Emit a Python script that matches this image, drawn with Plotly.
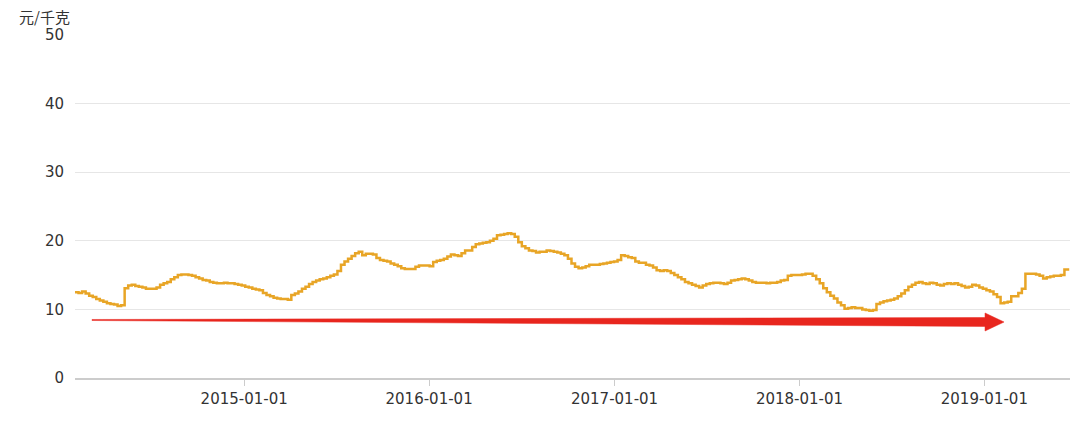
import pandas as pd
import plotly.graph_objects as go

# Weekly price (元/千克), starting 2014-02-01
start_date = "2014-02-01"
prices = [
    12.5, 12.4, 12.6, 12.3, 12.0, 11.8, 11.5, 11.3, 11.1, 10.9,
    10.8, 10.7, 10.5, 10.6, 13.1, 13.5, 13.6, 13.4, 13.3, 13.2,
    13.0, 13.0, 13.0, 13.2, 13.6, 13.8, 14.0, 14.4, 14.7, 15.0,
    15.1, 15.1, 15.0, 14.9, 14.7, 14.5, 14.3, 14.2, 14.0, 13.9,
    13.8, 13.8, 13.9, 13.8, 13.8, 13.7, 13.6, 13.5, 13.3, 13.2,
    13.0, 12.9, 12.8, 12.4, 12.1, 11.9, 11.7, 11.6, 11.5, 11.5,
    11.4, 12.1, 12.3, 12.6, 13.0, 13.3, 13.7, 14.0, 14.2, 14.4,
    14.5, 14.7, 14.9, 15.1, 15.6, 16.5, 17.0, 17.4, 17.8, 18.2,
    18.4, 17.9, 18.1, 18.1, 18.0, 17.5, 17.2, 17.1, 17.0, 16.7,
    16.5, 16.3, 16.0, 15.9, 15.9, 15.9, 16.2, 16.4, 16.4, 16.4,
    16.3, 16.9, 17.1, 17.2, 17.4, 17.7, 18.0, 17.9, 17.8, 18.2,
    18.6, 18.6, 19.1, 19.5, 19.6, 19.7, 19.8, 20.0, 20.3, 20.8,
    20.9, 21.0, 21.1, 21.0, 20.6, 19.8, 19.2, 18.9, 18.6, 18.5,
    18.3, 18.4, 18.4, 18.6, 18.5, 18.4, 18.3, 18.1, 17.9, 17.4,
    16.7, 16.2, 16.0, 16.1, 16.3, 16.5, 16.5, 16.5, 16.6, 16.7,
    16.8, 16.9, 17.0, 17.2, 17.9, 17.8, 17.6, 17.5, 17.0, 16.8,
    16.8, 16.5, 16.4, 16.1, 15.7, 15.6, 15.7, 15.6, 15.3, 15.0,
    14.7, 14.4, 14.0, 13.8, 13.6, 13.4, 13.2, 13.5, 13.7, 13.8,
    13.9, 13.9, 13.8, 13.7, 13.9, 14.2, 14.3, 14.4, 14.5, 14.4,
    14.2, 14.0, 13.9, 13.9, 13.9, 13.8, 13.9, 13.9, 14.0, 14.2,
    14.3, 14.9, 15.0, 15.0, 15.0, 15.1, 15.2, 15.2, 14.9, 14.4,
    13.8, 13.1, 12.5, 12.0, 11.6, 11.0, 10.6, 10.1, 10.2, 10.3,
    10.2, 10.2, 10.0, 9.9, 9.8, 9.9, 10.8, 11.0, 11.2, 11.3,
    11.4, 11.6, 11.9, 12.3, 12.8, 13.3, 13.6, 13.9, 14.0, 13.8,
    13.7, 13.9, 13.8, 13.6, 13.5, 13.7, 13.8, 13.7, 13.8, 13.6,
    13.4, 13.2, 13.3, 13.6, 13.5, 13.2, 13.0, 12.8, 12.6, 12.2,
    11.8, 10.9, 11.0, 11.1, 11.9, 11.9, 12.4, 13.0, 15.2, 15.2,
    15.2, 15.1, 14.9, 14.5, 14.7, 14.8, 14.9, 14.9, 15.0, 15.8,
    16.0,
]
x_range = ["2014-02-01", "2019-06-19"]
x_ticks = ["2015-01-01", "2016-01-01", "2017-01-01", "2018-01-01", "2019-01-01"]
y_ticks = [0, 10, 20, 30, 40, 50]
y_title = "元/千克"

dates = pd.date_range(start_date, periods=len(prices), freq="7D")

TICK_FONT = "DejaVu Sans, Noto Sans, sans-serif"
CJK_FONT = "Noto Sans CJK SC, Noto Sans, sans-serif"

fig = go.Figure()
fig.add_trace(go.Scatter(
    x=dates, y=prices, mode="lines", line_shape="hv",
    line=dict(color="#E8A526", width=2.5), showlegend=False,
    hoverinfo="x+y",
))

# Red tapering arrow annotation (x in plot-domain fraction, y in data units)
fig.add_shape(
    type="path", xref="x domain", yref="y",
    path=("M 0.0171 8.53 L 0.9146 8.82 L 0.9146 9.48 L 0.9337 8.16 "
          "L 0.9146 6.85 L 0.9146 7.51 L 0.0171 8.38 Z"),
    fillcolor="#E8261E", line=dict(color="#E8261E", width=0.5),
)

fig.add_annotation(
    text=y_title, xref="paper", yref="paper", x=-0.0573, y=1.054,
    xanchor="left", yanchor="middle", showarrow=False, borderpad=0,
    font=dict(family=CJK_FONT, size=15, color="#333333"),
)

fig.update_xaxes(
    type="date", range=x_range, tickvals=x_ticks, ticktext=x_ticks,
    showgrid=False, showline=True, linecolor="#CCCCCC", linewidth=1.5,
    ticks="outside", ticklen=6, tickcolor="#CCCCCC", tickwidth=1,
    tickfont=dict(family=TICK_FONT, size=15, color="#333333"), zeroline=False,
)
fig.update_yaxes(
    range=[0, 50], tickvals=y_ticks, showgrid=True, gridcolor="#E6E6E6",
    gridwidth=1, zeroline=False, showline=False, ticks="",
    tickfont=dict(family=TICK_FONT, size=15, color="#333333"), ticklabelstandoff=10,
)

fig.update_layout(
    width=1070, height=435,
    margin=dict(l=75, r=0, t=35, b=57),
    plot_bgcolor="white", paper_bgcolor="white",
    font=dict(family=CJK_FONT),
)

fig.write_html(
    "out.html",
    config={"displayModeBar": False},
    post_script="document.body.style.margin='0';",
)
